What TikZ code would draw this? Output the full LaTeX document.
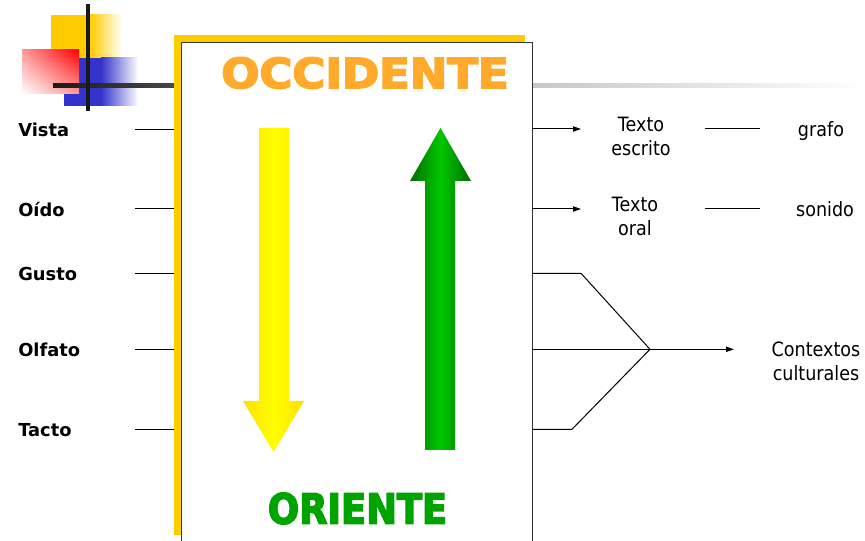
\documentclass[tikz,border=0pt]{standalone}
\usepackage{fontspec}
\setmainfont{DejaVu Sans}[FakeStretch=0.89]
\newfontfamily\lblfont{DejaVu Sans}
\newfontfamily\bigfont{DejaVu Sans}[UprightFont={* Bold},FakeBold=4]
\usetikzlibrary{shadings,arrows.meta}
\definecolor{decoyellow}{HTML}{FFCC00}
\definecolor{decoblue}{HTML}{3333CC}
\definecolor{decored}{HTML}{FF0000}
\definecolor{boxyellow}{HTML}{FFCC00}
\definecolor{occorange}{HTML}{FFAA2A}
\definecolor{origreen}{HTML}{00A400}
\definecolor{orilight}{HTML}{00C800}
\newcommand\bigwordfont{\bigfont\fontsize{29}{32}\selectfont}
\begin{document}
\begin{tikzpicture}[x=0.75pt,y=-0.75pt,
  sense/.style={anchor=base west, inner sep=0pt, font=\lblfont\bfseries\fontsize{13.4}{16}\selectfont},
  rtext/.style={inner sep=0pt, align=center, font=\fontsize{14.8}{18}\selectfont},
  link/.style={draw=black, line width=0.75pt},
  arrowlink/.style={link, -{Triangle[length=6pt,width=4pt]}},
  bigword/.style={inner sep=0pt, font=\bigwordfont}]
\useasboundingbox (0,0) rectangle (865,541);
\clip (0,0) rectangle (865,541);
% decoration top-left
\fill[decoyellow] (51,15) rectangle (90,58);
\shade[left color=decoyellow, right color=white] (90,15) rectangle (122,58);
\fill[decoblue] (64,58) rectangle (101,106);
\shade[left color=decoblue, right color=white] (101,58) rectangle (138,106);
\shade[upper left=decored!40!white, upper right=decored, lower left=white, lower right=decored!40!white] (22,50) rectangle (79,94);
\shade[left color=black!90, right color=black!72] (53,84) rectangle (174,88);
\shade[left color=black!22, right color=white] (532,84) rectangle (865,88);
\fill[black!90] (86,4) rectangle (90,111);
% main box
\fill[boxyellow] (174,35) rectangle (525,535);
\draw[draw=black!80, line width=0.75pt, fill=white] (181,43) rectangle (532,560);
% titles
\node[bigword, text=occorange] (occ) at (365,73) {\scalebox{1.16}[1.07]{OCCIDENTE}};
\node[bigword, text=origreen] (ori) at (357.5,508.5) {\scalebox{0.95}[1.07]{ORIENTE}};
% yellow arrow (down)
\shade[left color=yellow!88!orange, right color=yellow!90!orange, middle color=yellow] (259,129) rectangle (289,402);
\shade[left color=yellow!75!orange, right color=yellow!75!orange, middle color=yellow] (243,401) -- (304,401) -- (273.5,452) -- cycle;
% green arrow (up)
\shade[left color=green!62!black, right color=green!62!black, middle color=orilight] (425,180) rectangle (455,450);
\shade[left color=green!42!black, right color=green!42!black, middle color=orilight] (410,181) -- (471,181) -- (440.5,128) -- cycle;
% left labels
\node[sense] (vista) at (18,136.6) {Vista};
\node[sense] (oido) at (18,216.3) {Oído};
\node[sense] (gusto) at (18,280.6) {Gusto};
\node[sense] (olfato) at (18,356.6) {Olfato};
\node[sense] (tacto) at (18,436.6) {Tacto};
\foreach \nm/\yy in {vista/129.3, oido/209, gusto/273.3, olfato/349.3, tacto/429.3}{
  \coordinate (\nm L) at (135,\yy);
  \coordinate (\nm R) at (174,\yy);
  \draw[link] (\nm L) -- (\nm R);
}
% right side
\node[rtext] (escrito) at (641,136.7) {Texto\\escrito};
\node[rtext] (oral) at (635,216.7) {Texto\\oral};
\node[rtext, anchor=base] (grafo) at (821,136.3) {grafo};
\node[rtext, anchor=base] (sonido) at (825,216.3) {sonido};
\node[rtext] (contextos) at (816,361) {Contextos\\culturales};
\coordinate (escL) at (532,129);
\coordinate (escR) at (581,129);
\coordinate (oraL) at (532,209);
\coordinate (oraR) at (581,209);
\draw[arrowlink] (escL) -- (escR);
\draw[arrowlink] (oraL) -- (oraR);
\coordinate (grafoL) at (705,129);
\coordinate (grafoR) at (760,129);
\coordinate (sonidoL) at (705,209);
\coordinate (sonidoR) at (760,209);
\draw[link] (grafoL) -- (grafoR);
\draw[link] (sonidoL) -- (sonidoR);
% bracket to contextos
\coordinate (brTop) at (532,273.3);
\coordinate (brTopK) at (581,273.3);
\coordinate (brMid) at (532,349.3);
\coordinate (brJoin) at (650,349.3);
\coordinate (brBot) at (532,429.3);
\coordinate (brBotK) at (572,429.3);
\coordinate (ctxTip) at (734,349.3);
\draw[link, line join=miter] (brTop) -- (brTopK) -- (brJoin) -- (brBotK) -- (brBot);
\draw[link] (brMid) -- (brJoin);
\draw[arrowlink] (brJoin) -- (ctxTip);
\end{tikzpicture}
\end{document}
